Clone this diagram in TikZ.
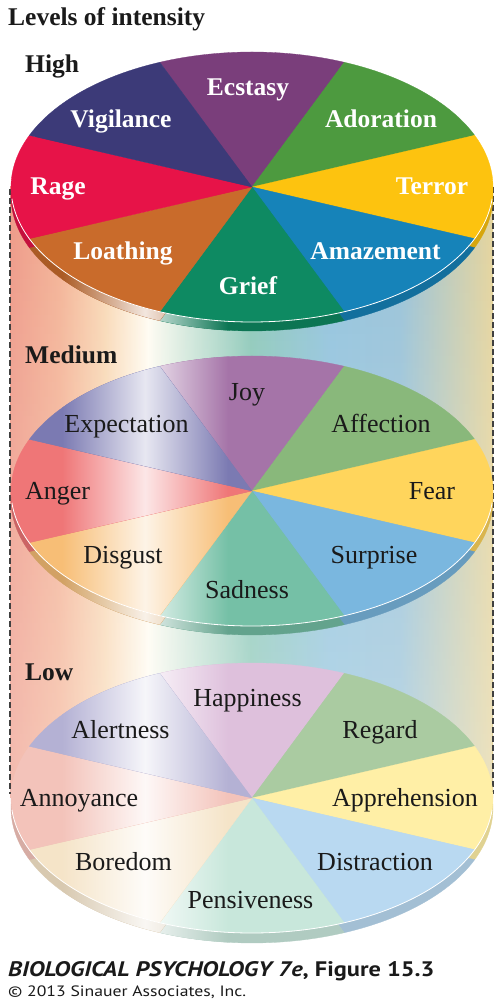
\documentclass[tikz,border=0pt]{standalone}
\usepackage{fontspec}
\setmainfont{Liberation Serif}
\newfontfamily\capfont{PT Sans}
\usetikzlibrary{fadings}
% high
\definecolor{ecst}{HTML}{7A3E7B}
\definecolor{vigi}{HTML}{3C3A78}
\definecolor{ador}{HTML}{4D9A3F}
\definecolor{terr}{HTML}{FDC30F}
\definecolor{amaz}{HTML}{1683B9}
\definecolor{grie}{HTML}{0E8A62}
\definecolor{loat}{HTML}{C96B2B}
\definecolor{rage}{HTML}{E71348}
% medium
\definecolor{joy}{HTML}{A574A8}
\definecolor{expe}{HTML}{7B7AB2}
\definecolor{affe}{HTML}{89B87B}
\definecolor{fear}{HTML}{FFD55C}
\definecolor{surp}{HTML}{7AB7DF}
\definecolor{sadn}{HTML}{75C0A6}
\definecolor{disg}{HTML}{F7BE76}
\definecolor{ange}{HTML}{EF7677}
% low
\definecolor{happ}{HTML}{DEC0DC}
\definecolor{aler}{HTML}{B4B1D4}
\definecolor{rega}{HTML}{AACBA1}
\definecolor{appr}{HTML}{FFEFA6}
\definecolor{dist}{HTML}{B9D9F1}
\definecolor{pens}{HTML}{C8E7DB}
\definecolor{bore}{HTML}{F5E4C8}
\definecolor{anno}{HTML}{F3C3BA}
% body
\definecolor{b1}{HTML}{EE9A88}
\definecolor{b2}{HTML}{F4B396}
\definecolor{b3}{HTML}{F9D9B6}
\definecolor{b4}{HTML}{FFFCF2}
\definecolor{b5}{HTML}{8CC8B8}
\definecolor{b6}{HTML}{92C3DD}
\definecolor{b7}{HTML}{98C2D8}
\definecolor{b8}{HTML}{E5D49C}
\definecolor{ink}{HTML}{1A1A1A}
% plain pie: #1 centre, #2 percent of colour (rest black), #3 list start/colour
\newcommand\mypie[3]{%
  \foreach \a/\c in {#3} {
    \fill[fill=\c!#2!black, draw=\c!#2!black, line width=0.3pt] (#1) -- ++(\a:241pt and 135pt)
      arc[start angle=\a, delta angle=45, x radius=241pt, y radius=135pt] -- cycle;
  }}
% pie with a vertical light band: #4 = percent of colour left at the peak
\newcommand\mypieh[4]{%
  \foreach \a/\c in {#3} {
    \fill[fill=\c!#2!black, draw=\c!#2!black, line width=0.3pt] (#1) -- ++(\a:241pt and 135pt)
      arc[start angle=\a, delta angle=45, x radius=241pt, y radius=135pt] -- cycle;
    \begin{scope}
      \clip (#1) -- ++(\a:241pt and 135pt)
        arc[start angle=\a, delta angle=45, x radius=241pt, y radius=135pt] -- cycle;
      \shade[left color=\c!#2!black, right color=\c!#2!black, middle color=\c!#2!black!#4!white] (62,0) rectangle (228,1008);
    \end{scope}
  }}
\newcommand\myrim[1]{%
  \draw[rim] (#1) ++(185:241pt and 135pt) arc[start angle=185, end angle=355, x radius=241pt, y radius=135pt];}
\tikzset{
  hilab/.style={text=white, font=\fontsize{25.5}{29}\selectfont\bfseries, inner sep=0pt, anchor=base},
  lab/.style={text=ink, font=\fontsize{26}{30}\selectfont, inner sep=0pt, anchor=base},
  level/.style={text=ink, font=\fontsize{25.5}{29}\selectfont\bfseries, inner sep=0pt, anchor=base west},
  cyledge/.style={draw=black!75, line width=1.2pt, dash pattern=on 6pt off 3pt},
  rim/.style={draw=white, line width=0.8pt},
}
\begin{document}
\begin{tikzpicture}[x=1pt, y=1pt]
\useasboundingbox (0,0) rectangle (503,1008);
% centres
\coordinate (H) at (252,821);
\coordinate (Hb) at (252,812);
\coordinate (M) at (252,517);
\coordinate (Mb) at (252,508);
\coordinate (L) at (252,210);
\coordinate (Lb) at (252,200);
% cylinder body
\foreach \xa/\xb/\ca/\cb in {10/60.5/b1/b2, 60/105.5/b2/b3, 105/148.5/b3/b4, 148/250.5/b4/b5, 250/330.5/b5/b6, 330/400.5/b6/b7, 400/493/b7/b8}
  \shade[left color=\ca, right color=\cb] (\xa,210) rectangle (\xb,821);
\fill[white, path fading=north, fill opacity=0.35] (10,210) rectangle (493,821);
% dashed edges
\coordinate (lt) at (10,819);
\coordinate (lb) at (10,214);
\coordinate (rt) at (493,821);
\coordinate (rb) at (493,214);
\draw[cyledge] (lt) -- (lb);
\draw[cyledge] (rt) -- (rb);
% ---------- HIGH ----------
\mypieh{Hb}{85}{67.5/ecst, 22.5/ador, -22.5/terr, -67.5/amaz, -112.5/grie, -157.5/loat, 157.5/rage, 112.5/vigi}{15}
\mypie{H}{100}{67.5/ecst, 22.5/ador, -22.5/terr, -67.5/amaz, -112.5/grie, -157.5/loat, 157.5/rage, 112.5/vigi}
\myrim{H}
\node[hilab] (ecstasy) at (248,912) {Ecstasy};
\node[hilab] (vigilance) at (121,880) {Vigilance};
\node[hilab] (adoration) at (381,880) {Adoration};
\node[hilab] (rage) at (58,813) {Rage};
\node[hilab] (terror) at (432,813) {Terror};
\node[hilab] (loathing) at (123,748) {Loathing};
\node[hilab] (amazement) at (375.5,748) {Amazement};
\node[hilab] (grief) at (248,713) {Grief};
% ---------- MEDIUM ----------
\mypieh{Mb}{85}{67.5/joy, 22.5/affe, -22.5/fear, -67.5/surp, -112.5/sadn, -157.5/disg, 157.5/ange, 112.5/expe}{15}
\mypieh{M}{100}{67.5/joy, 22.5/affe, -22.5/fear, -67.5/surp, -112.5/sadn, -157.5/disg, 157.5/ange, 112.5/expe}{18}
\myrim{M}
\node[lab] (joy) at (247,607) {Joy};
\node[lab] (expectation) at (126.5,575) {Expectation};
\node[lab] (affection) at (381,575) {Affection};
\node[lab] (anger) at (57.5,508) {Anger};
\node[lab] (fear) at (432,508) {Fear};
\node[lab] (disgust) at (123,444) {Disgust};
\node[lab] (surprise) at (374,444) {Surprise};
\node[lab] (sadness) at (247,409) {Sadness};
% ---------- LOW ----------
\mypieh{Lb}{88}{67.5/happ, 22.5/rega, -22.5/appr, -67.5/dist, -112.5/pens, -157.5/bore, 157.5/anno, 112.5/aler}{15}
\mypieh{L}{100}{67.5/happ, 22.5/rega, -22.5/appr, -67.5/dist, -112.5/pens, -157.5/bore, 157.5/anno, 112.5/aler}{12}
\myrim{L}
\node[lab] (happiness) at (247.5,301) {Happiness};
\node[lab] (alertness) at (120.5,269) {Alertness};
\node[lab] (regard) at (380,269) {Regard};
\node[lab] (annoyance) at (79,201) {Annoyance};
\node[lab] (apprehension) at (405,201) {Apprehension};
\node[lab] (boredom) at (123.5,137) {Boredom};
\node[lab] (distraction) at (375,137) {Distraction};
\node[lab] (pensiveness) at (250.5,99) {Pensiveness};
% ---------- headings ----------
\node[level] (title) at (8,982) {Levels of intensity};
\node[level] (high) at (25,935) {High};
\node[level] (medium) at (25,644) {Medium};
\node[level] (low) at (25,327) {Low};
% ---------- caption ----------
\node[inner sep=0pt, anchor=base west, text=ink, font=\capfont\fontsize{21}{24}\selectfont\bfseries] (cap) at (8,31) {\scalebox{1.16}[1]{\textit{BIOLOGICAL PSYCHOLOGY 7e}, Figure 15.3}};
\node[inner sep=0pt, anchor=base west, text=ink, font=\capfont\fontsize{15}{18}\selectfont] (copy) at (8,11) {\scalebox{1.18}[1]{\textcopyright{} 2013 Sinauer Associates, Inc.}};
\end{tikzpicture}
\end{document}
